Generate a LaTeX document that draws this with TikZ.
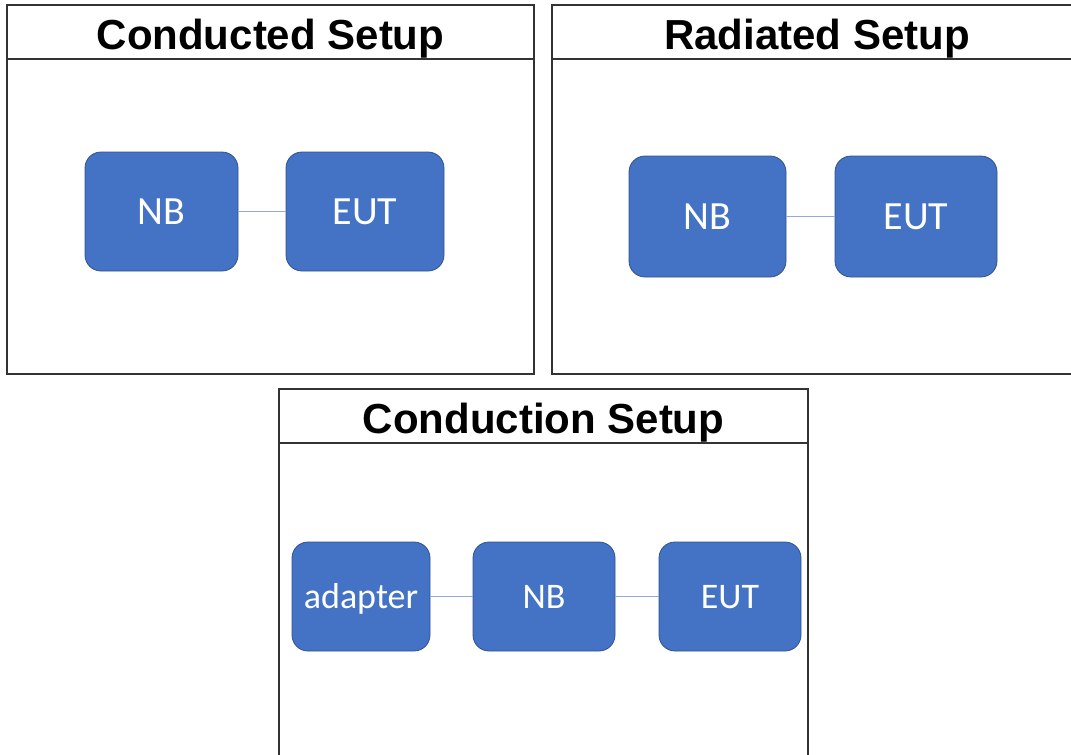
\documentclass[tikz,border=0pt]{standalone}
\usepackage{fontspec}
\setmainfont{Carlito}
\newfontfamily\titlefont{Liberation Sans}
\definecolor{boxblue}{HTML}{4472C4}
\definecolor{boxedge}{HTML}{2F528F}
\definecolor{linkblue}{HTML}{8FAADC}
\begin{document}
\begin{tikzpicture}[x=1pt, y=-1pt,
        frame/.style={line width=1.3pt, draw=black!80},
        heading/.style={anchor=base, font=\titlefont\bfseries\fontsize{42}{48}\selectfont},
        dev/.style={draw=boxedge, line width=0.8pt, fill=boxblue, rounded corners=16pt,
                text=white, text height=25.8pt, text depth=0pt, inner sep=0pt,
                font=\fontsize{40}{46}\selectfont},
        small/.style={text height=23.2pt, font=\fontsize{36}{42}\selectfont},
        link/.style={draw=linkblue, line width=1.5pt}]
        \clip (0,0) rectangle (1071,755);
        \coordinate (A) at (7,5);
        \coordinate (B) at (534,374);
        \coordinate (C) at (552,5);
        \coordinate (D) at (1082,374);
        \coordinate (E) at (279,389);
        \coordinate (F) at (808,760);
        % panels
        \draw[frame] (A) rectangle (B);
        \draw[frame] (7,59) -- (534,59);
        \draw[frame] (C) rectangle (D);
        \draw[frame] (552,59) -- (1082,59);
        \draw[frame] (E) rectangle (F);
        \draw[frame] (279,443) -- (808,443);
        \node[heading] (condTitle) at (270.5,49) {Conducted Setup};
        \node[heading] (radTitle) at (817,49) {Radiated Setup};
        \node[heading] (cdnTitle) at (543.5,433) {Conduction Setup};
        % conducted
        \node[dev, minimum width=153pt, minimum height=119pt] (nbA) at (161.5,211.5) {NB};
        \node[dev, minimum width=158pt, minimum height=119pt] (eutA) at (365,211.5) {EUT};
        \draw[link] (nbA) -- (eutA);
        % radiated
        \node[dev, minimum width=157pt, minimum height=121pt] (nbB) at (707.5,216.5) {NB};
        \node[dev, minimum width=162pt, minimum height=121pt] (eutB) at (916,216.5) {EUT};
        \draw[link] (nbB) -- (eutB);
        % conduction
        \node[dev, small, minimum width=138pt, minimum height=109pt] (adpC) at (361,596.5) {adapter};
        \node[dev, small, minimum width=142pt, minimum height=109pt] (nbC) at (544,596.5) {NB};
        \node[dev, small, minimum width=142pt, minimum height=109pt] (eutC) at (730,596.5) {EUT};
        \draw[link] (adpC) -- (nbC);
        \draw[link] (nbC) -- (eutC);
\end{tikzpicture}
\end{document}
